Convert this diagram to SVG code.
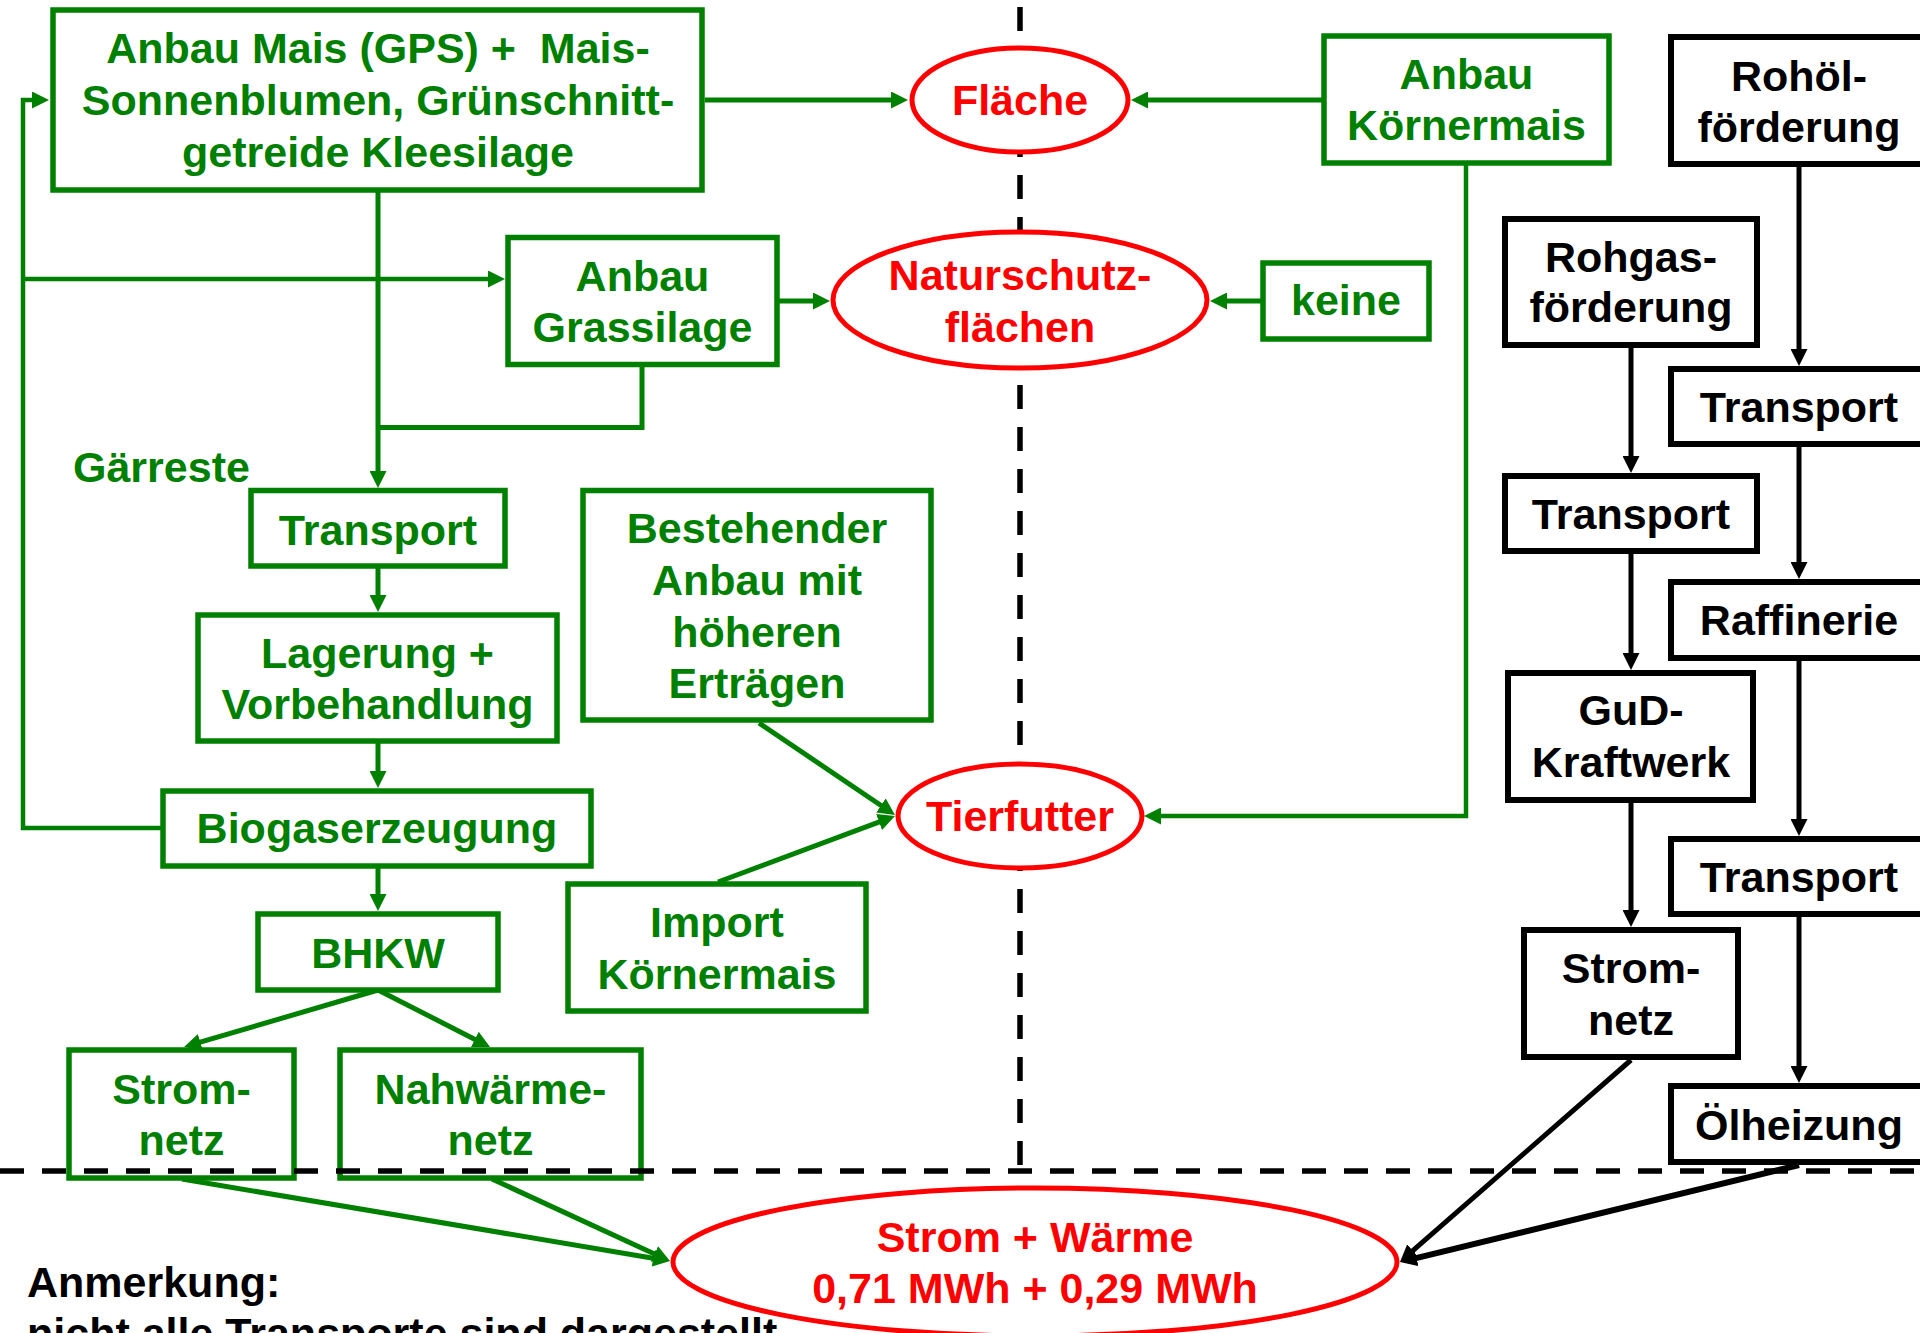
<svg xmlns="http://www.w3.org/2000/svg" width="1920" height="1333" viewBox="0 0 1920 1333">
<style>
text{font-family:"Liberation Sans",Arial,sans-serif;font-weight:bold;font-size:43px;text-anchor:middle}
.g text,text.g{fill:#008000}
.k text,text.k{fill:#000}
.r text{fill:#ff0000}
.g rect{fill:#fff;stroke:#008000;stroke-width:5.5}
.k rect{fill:#fff;stroke:#000;stroke-width:6}
.r ellipse{fill:#fff;stroke:#ff0000;stroke-width:5}
.cg{fill:none;stroke:#008000;stroke-width:5;marker-end:url(#ag)}
.cg4{fill:none;stroke:#008000;stroke-width:4.5;marker-end:url(#ag)}
.cn{fill:none;stroke:#008000;stroke-width:5}
.ck{fill:none;stroke:#000;stroke-width:5;marker-end:url(#ak)}
.dash{stroke:#000;stroke-width:5.5;stroke-dasharray:24 18;fill:none}
</style>
<defs>
<marker id="ag" markerUnits="userSpaceOnUse" markerWidth="17" markerHeight="17" refX="9" refY="8.5" orient="auto"><path d="M0,0 L17,8.5 L0,17 Z" fill="#008000"/></marker>
<marker id="ak" markerUnits="userSpaceOnUse" markerWidth="17" markerHeight="17" refX="9" refY="8.5" orient="auto"><path d="M0,0 L17,8.5 L0,17 Z" fill="#000"/></marker>
</defs>
<rect width="1920" height="1333" fill="#fff"/>
<g id="connectors">
<path class="cg" d="M705,100 H900"/>
<path class="cg" d="M1324,100 H1139"/>
<path class="cg" d="M1263,301 H1218"/>
<path class="cg" d="M777,301 H822"/>
<path class="cg4" d="M163,828 H23 V100 H41"/>
<path class="cg4" d="M23,279 H497"/>
<path class="cg" d="M378,190 V480"/>
<path class="cn" d="M642,365 V427.5 H378"/>
<path class="cg" d="M378,566 V604"/>
<path class="cg" d="M378,741 V780"/>
<path class="cg" d="M378,866 V903"/>
<path class="cg" d="M378,990 L191.7,1044.7"/>
<path class="cg" d="M378,990 L482.9,1043.4"/>
<path class="cg" d="M182,1179 L662.1,1259.7"/>
<path class="cg" d="M492,1179 L662.7,1257.7"/>
<path class="cg" d="M759,723 L888.4,810.5"/>
<path class="cg" d="M718,882 L887.5,818.8"/>
<path class="cg4" d="M1466,163 V816 H1152"/>
<path class="ck" d="M1799,164 V358"/>
<path class="ck" d="M1631,345 V465"/>
<path class="ck" d="M1799,444 V571"/>
<path class="ck" d="M1631,551 V662"/>
<path class="ck" d="M1799,658 V828"/>
<path class="ck" d="M1631,800 V919"/>
<path class="ck" d="M1799,914 V1075"/>
<path class="ck" d="M1631,1060 L1406,1256.7"/>
<path class="ck" d="M1799,1165 L1407.8,1260.1" style="stroke-width:6"/>
</g>
<g id="n-anbau-mais" class="g"><rect x="53" y="10" width="649" height="180"/>
<text x="378" y="63" xml:space="preserve">Anbau Mais (GPS) +  Mais-</text><text x="378" y="115">Sonnenblumen, Grünschnitt-</text><text x="378" y="167">getreide Kleesilage</text></g>
<g id="n-grassilage" class="g"><rect x="508" y="237.5" width="269" height="127"/><text x="642.5" y="291">Anbau</text><text x="642.5" y="342">Grassilage</text></g>
<g id="n-gaerreste" class="g"><text x="73" y="482" style="text-anchor:start">Gärreste</text></g>
<g id="n-transport-g" class="g"><rect x="251" y="490.5" width="254" height="75.5"/><text x="378" y="545">Transport</text></g>
<g id="n-lagerung" class="g"><rect x="198" y="615" width="359" height="126"/><text x="377.5" y="668">Lagerung +</text><text x="377.5" y="719">Vorbehandlung</text></g>
<g id="n-biogas" class="g"><rect x="163" y="791" width="428" height="75"/><text x="377" y="843">Biogaserzeugung</text></g>
<g id="n-bhkw" class="g"><rect x="258" y="914" width="240" height="76"/><text x="378" y="968">BHKW</text></g>
<g id="n-bestehend" class="g"><rect x="583" y="490.5" width="348" height="229.5"/><text x="757" y="543">Bestehender</text><text x="757" y="595">Anbau mit</text><text x="757" y="647">höheren</text><text x="757" y="698">Erträgen</text></g>
<g id="n-import" class="g"><rect x="568" y="884" width="298" height="127"/><text x="717" y="937">Import</text><text x="717" y="989">Körnermais</text></g>
<g id="n-stromnetz-g" class="g"><rect x="69" y="1050" width="225" height="128"/><text x="181.5" y="1104">Strom-</text><text x="181.5" y="1155">netz</text></g>
<g id="n-nahwaerme" class="g"><rect x="340" y="1050" width="301" height="128"/><text x="490.5" y="1104">Nahwärme-</text><text x="490.5" y="1155">netz</text></g>
<g id="n-koernermais" class="g"><rect x="1324" y="36" width="285" height="127"/><text x="1466.5" y="89">Anbau</text><text x="1466.5" y="140">Körnermais</text></g>
<g id="n-keine" class="g"><rect x="1263" y="263" width="166" height="76"/><text x="1346" y="315">keine</text></g>
<g id="n-rohoel" class="k"><rect x="1671" y="37" width="260" height="127"/><text x="1799" y="91">Rohöl-</text><text x="1799" y="142">förderung</text></g>
<g id="n-rohgas" class="k"><rect x="1505" y="219" width="252" height="126"/><text x="1631" y="272">Rohgas-</text><text x="1631" y="322">förderung</text></g>
<g id="n-transport-k1" class="k"><rect x="1671" y="369" width="260" height="75"/><text x="1799" y="422">Transport</text></g>
<g id="n-transport-k2" class="k"><rect x="1505" y="476" width="252" height="75"/><text x="1631" y="529">Transport</text></g>
<g id="n-raffinerie" class="k"><rect x="1671" y="582" width="260" height="76"/><text x="1799" y="635">Raffinerie</text></g>
<g id="n-gud" class="k"><rect x="1508" y="673" width="245" height="127"/><text x="1631" y="725">GuD-</text><text x="1631" y="777">Kraftwerk</text></g>
<g id="n-transport-k3" class="k"><rect x="1671" y="839" width="260" height="75"/><text x="1799" y="892">Transport</text></g>
<g id="n-stromnetz-k" class="k"><rect x="1524" y="930" width="214" height="127"/><text x="1631" y="983">Strom-</text><text x="1631" y="1035">netz</text></g>
<g id="n-oelheizung" class="k"><rect x="1671" y="1086" width="260" height="76"/><text x="1799" y="1140">Ölheizung</text></g>
<g id="dividers">
<path class="dash" d="M1020,7 V1171"/>
<path class="dash" d="M0,1171 H1920"/>
</g>
<g id="n-flaeche" class="r"><ellipse cx="1020" cy="100" rx="108" ry="52"/><text x="1020" y="115">Fläche</text></g>
<g id="n-naturschutz" class="r"><ellipse cx="1020" cy="300" rx="187" ry="68"/><text x="1020" y="290">Naturschutz-</text><text x="1020" y="342">flächen</text></g>
<g id="n-tierfutter" class="r"><ellipse cx="1020" cy="816" rx="122" ry="52"/><text x="1020" y="831">Tierfutter</text></g>
<g id="n-strom-waerme" class="r"><ellipse cx="1035" cy="1262" rx="362" ry="74"/><text x="1035" y="1252">Strom + Wärme</text><text x="1035" y="1303">0,71 MWh + 0,29 MWh</text></g>
<g id="n-anmerkung" class="k"><text x="27" y="1297" style="text-anchor:start">Anmerkung:</text><text x="27" y="1348" style="text-anchor:start">nicht alle Transporte sind dargestellt</text></g>
</svg>
